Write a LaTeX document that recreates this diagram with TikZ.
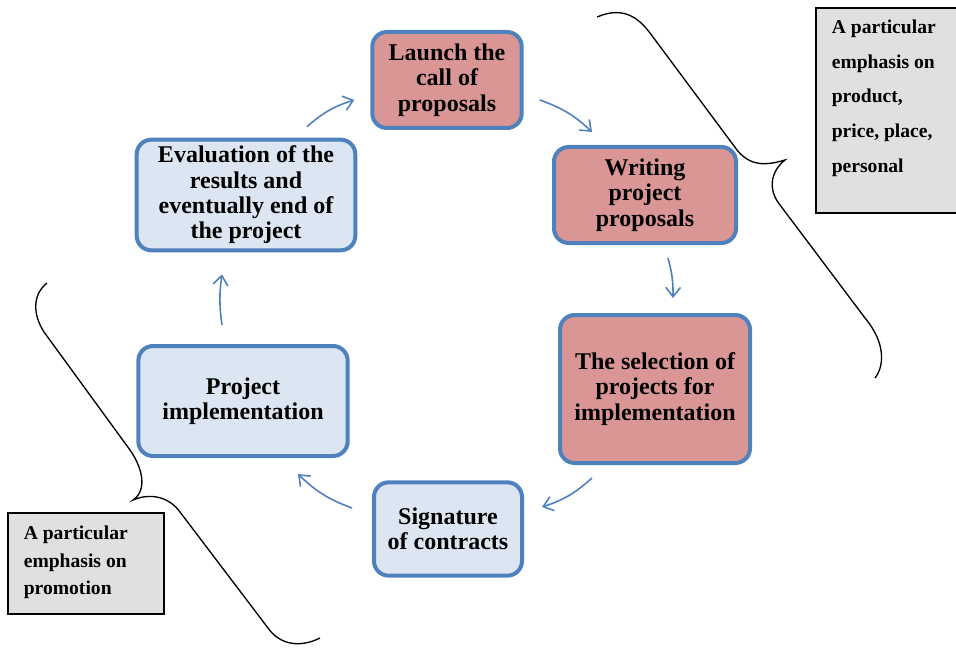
\documentclass[tikz,border=0pt]{standalone}
\usepackage{fontspec}
\setmainfont{Liberation Serif}
\usetikzlibrary{arrows.meta}
\definecolor{BoxRed}{HTML}{D99694}
\definecolor{BoxBlue}{HTML}{DCE6F2}
\definecolor{EdgeBlue}{HTML}{4F81BD}
\definecolor{NoteGray}{HTML}{E0E0E0}

\begin{document}
\begin{tikzpicture}[x=0.75pt,y=-0.75pt,
  every node/.style={font=\fontsize{18}{19}\selectfont\bfseries,align=center,inner sep=2pt},
  stage/.style={draw=EdgeBlue,line width=3pt,rounded corners=11pt},
  note/.style={draw=black,line width=1.2pt,fill=NoteGray,anchor=north west,inner xsep=12pt,
    font=\fontsize{14.7}{26}\selectfont\bfseries},
  flow/.style={draw=EdgeBlue,line width=1.2pt,-{Straight Barb[length=7pt,width=11pt]}},
  curly/.style={draw=black,line width=1pt}]
  \useasboundingbox (0,0) rectangle (956,649);
  % the cycle
  \node[stage,fill=BoxRed,minimum width=112pt,minimum height=72pt] (launch) at (447,80) {Launch the\\call of\\proposals};
  \node[stage,fill=BoxRed,minimum width=136.5pt,minimum height=72pt] (writing) at (645,195) {Writing\\project\\proposals};
  \node[stage,fill=BoxRed,minimum width=142.5pt,minimum height=111pt] (select) at (655,389) {The selection of\\projects for\\implementation};
  \node[stage,fill=BoxBlue,minimum width=111pt,minimum height=70pt] (sign) at (448,529) {Signature\\of contracts};
  \node[stage,fill=BoxBlue,minimum width=157pt,minimum height=82.5pt] (impl) at (243,401) {Project\\implementation};
  \node[stage,fill=BoxBlue,minimum width=164pt,minimum height=83pt] (eval) at (246,195) {Evaluation of the\\results and\\eventually end of\\the project};
  \draw[flow] ([shift={(61,-11)}]eval.north) to[bend left=12] ([shift={(-16,20)}]launch.west);
  \draw[flow] ([shift={(16,20)}]launch.east) to[bend left=12] ([shift={(-53,-13)}]writing.north);
  \draw[flow] ([shift={(23,13)}]writing.south) to[bend left=8] ([shift={(18,-15)}]select.north);
  \draw[flow] ([shift={(-63,13)}]select.south) to[bend left=12] ([shift={(18,-22)}]sign.east);
  \draw[flow] ([shift={(-20,-21)}]sign.west) to[bend left=12] ([shift={(55,16)}]impl.south);
  \draw[flow] ([shift={(-21,-19)}]impl.north) to[bend left=8] ([shift={(-24,22)}]eval.south);
  % notes and braces
  \node[note,inner ysep=9pt] (mixnote) at (815,7) {\parbox[t][136pt][t]{92pt}{\raggedright A particular\\emphasis on\\product,\\price, place,\\personal}};
  \node[note,inner ysep=10pt] (promonote) at (7,512) {\parbox[t][56pt][t]{93pt}{\fontsize{14.7}{20.6}\selectfont\raggedright A particular\\emphasis on\\promotion}};
  \coordinate (rtip) at (785,160);
  \coordinate (ltip) at (133,500);
  \draw[curly] (597,17) .. controls (625,5) and (640,20) .. (650,33) -- (737,150)
    .. controls (750,166) and (765,166) .. (rtip)
    .. controls (770,172) and (768,190) .. (780,205) -- (865,318)
    .. controls (885,342) and (885,365) .. (875,378);
  \draw[curly] (47,283) .. controls (32,295) and (33,315) .. (44,332) -- (130,450)
    .. controls (142,467) and (148,490) .. (ltip)
    .. controls (152,492) and (170,498) .. (180,512) -- (268,628)
    .. controls (280,645) and (300,648) .. (320,638);
\end{tikzpicture}
\end{document}
